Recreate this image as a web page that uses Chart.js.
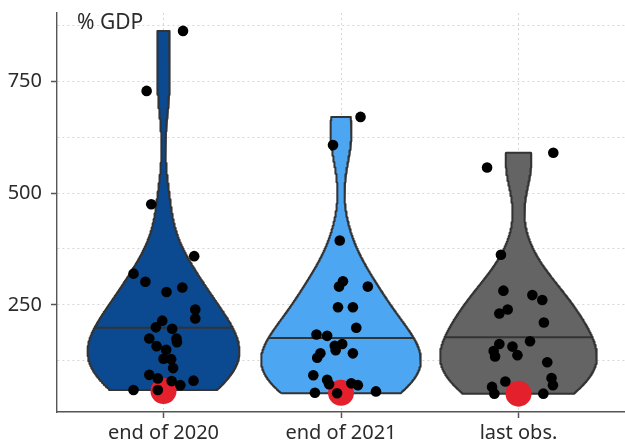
<!DOCTYPE html>
<html>
<head>
<meta charset="utf-8">
<script src="https://cdn.jsdelivr.net/npm/chart.js@4/dist/chart.umd.min.js"></script>
<style>
  html, body { margin: 0; padding: 0; background: #ffffff; }
  #wrap { width: 625px; height: 447px; }
</style>
</head>
<body>
<div id="wrap"><canvas id="c" width="625" height="447"></canvas></div>
<script>
// Categories on the x axis
const categories = ['end of 2020', 'end of 2021', 'last obs.'];

// Country observations (% of GDP) per category, with their horizontal jitter
const values2020 = [862, 728, 475, 359, 320, 302, 289, 279, 240, 220, 215, 200, 197, 175, 175, 167, 158, 150, 130, 129, 109, 94, 86, 81, 80, 71, 60, 60];
const jitter2020 = [0.110, -0.095, -0.069, 0.173, -0.169, -0.102, 0.106, 0.017, 0.179, 0.179, -0.007, -0.043, 0.049, -0.080, 0.073, 0.076, -0.039, 0.015, 0.000, 0.043, 0.054, -0.080, -0.032, 0.169, 0.046, 0.095, -0.169, -0.032];

const values2021 = [670, 607, 394, 303, 291, 291, 245, 245, 199, 184, 181, 163, 159, 149, 142, 142, 132, 93, 83, 75, 73, 71, 57, 54, 53];
const jitter2021 = [0.110, -0.045, -0.007, 0.011, -0.011, 0.151, -0.017, 0.067, 0.086, -0.138, -0.078, 0.007, -0.035, -0.030, -0.116, 0.067, -0.134, -0.156, -0.078, 0.058, -0.067, 0.095, 0.197, -0.147, -0.022];

const valuesLast = [590, 557, 362, 282, 272, 261, 240, 231, 211, 169, 163, 157, 147, 138, 135, 122, 87, 79, 71, 67, 52, 52];
const jitterLast = [0.196, -0.177, -0.099, -0.085, 0.078, 0.134, -0.061, -0.108, 0.143, 0.065, -0.108, -0.034, -0.140, -0.006, -0.132, 0.162, 0.186, -0.074, 0.194, -0.149, -0.136, 0.140];

// Median line drawn across each violin
const medianValues = [199, 176, 178];

// Highlighted country, one value per category
const highlightValues = [58, 54, 52];

// Axis ticks
const yTickLabels = [250, 500, 750];
const yMinorGrid = [125, 375, 625, 875];
const yRange = [11, 902];

// Styling
const violinColors = ['#0b4a91', '#4ca6f2', '#646464'];
const outlineColor = '#333333';
const axisColor = '#555555';
const gridColor = '#d6d6d6';
const textColor = '#2b2b2b';
const fontFamily = '"Noto Sans", "DejaVu Sans", sans-serif';

// Density smoothing: multiplier on the rule-of-thumb bandwidth
const bwAdjust = 1.15;

const groups = [
  { values: values2020, jitter: jitter2020 },
  { values: values2021, jitter: jitter2021 },
  { values: valuesLast, jitter: jitterLast }
];

// ---- Kernel density (Gaussian, Silverman's rule-of-thumb bandwidth) ----
function quantile7(sorted, p) {
  const h = (sorted.length - 1) * p;
  const lo = Math.floor(h);
  const hi = Math.min(lo + 1, sorted.length - 1);
  return sorted[lo] + (h - lo) * (sorted[hi] - sorted[lo]);
}
function bandwidth(v) {
  const n = v.length;
  const mean = v.reduce((a, b) => a + b, 0) / n;
  const sd = Math.sqrt(v.reduce((a, b) => a + (b - mean) * (b - mean), 0) / (n - 1));
  const s = [...v].sort((a, b) => a - b);
  const iqr = quantile7(s, 0.75) - quantile7(s, 0.25);
  const lo = Math.min(sd, iqr / 1.34);
  return 0.9 * lo * Math.pow(n, -0.2);
}
function kde(v, bw, y) {
  let sum = 0;
  for (const xi of v) {
    const z = (y - xi) / bw;
    sum += Math.exp(-0.5 * z * z);
  }
  return sum / (v.length * bw * Math.sqrt(2 * Math.PI));
}

const nGrid = 512;
const profiles = groups.map(g => {
  const lo = Math.min(...g.values), hi = Math.max(...g.values);
  const bw = bandwidth(g.values) * bwAdjust;
  const ys = [], ds = [];
  for (let i = 0; i < nGrid; i++) {
    const y = lo + (hi - lo) * i / (nGrid - 1);
    ys.push(y);
    ds.push(kde(g.values, bw, y));
  }
  return { ys, ds };
});
const maxDensity = Math.max(...profiles.map(p => Math.max(...p.ds)));
const halfWidthMax = 0.45;

function halfWidthAt(p, y) {
  for (let i = 1; i < p.ys.length; i++) {
    if (p.ys[i] >= y) {
      const t = (y - p.ys[i - 1]) / (p.ys[i] - p.ys[i - 1]);
      const d = p.ds[i - 1] + t * (p.ds[i] - p.ds[i - 1]);
      return halfWidthMax * d / maxDensity;
    }
  }
  return halfWidthMax * p.ds[p.ds.length - 1] / maxDensity;
}

const datasets = [];

// Violin outlines (closed polygons filled as shapes)
profiles.forEach((p, gi) => {
  const cx = gi + 1;
  const pts = [];
  for (let i = 0; i < p.ys.length; i++) pts.push({ x: cx - halfWidthMax * p.ds[i] / maxDensity, y: p.ys[i] });
  for (let i = p.ys.length - 1; i >= 0; i--) pts.push({ x: cx + halfWidthMax * p.ds[i] / maxDensity, y: p.ys[i] });
  pts.push(pts[0]);
  datasets.push({
    data: pts,
    showLine: true,
    fill: 'shape',
    backgroundColor: violinColors[gi],
    borderColor: outlineColor,
    borderWidth: 2,
    borderJoinStyle: 'round',
    pointRadius: 0,
    tension: 0,
    order: 3
  });
});

// Median line inside each violin
profiles.forEach((p, gi) => {
  const cx = gi + 1;
  const m = medianValues[gi];
  const hw = halfWidthAt(p, m);
  datasets.push({
    data: [{ x: cx - hw, y: m }, { x: cx + hw, y: m }],
    showLine: true,
    fill: false,
    borderColor: outlineColor,
    borderWidth: 2,
    pointRadius: 0,
    order: 2
  });
});

// Highlighted country
datasets.push({
  data: highlightValues.map((v, i) => ({ x: i + 1, y: v })),
  backgroundColor: '#e3202c',
  borderWidth: 0,
  pointRadius: 13,
  order: 1
});

// Individual countries
const obs = [];
groups.forEach((g, gi) => g.values.forEach((v, j) => obs.push({ x: gi + 1 + g.jitter[j], y: v })));
datasets.push({
  data: obs,
  backgroundColor: '#000000',
  borderWidth: 0,
  pointRadius: 5.3,
  order: 0
});

// Unit label in the top-left corner of the plot
const unitLabel = {
  id: 'unitLabel',
  afterDraw(chart) {
    const { ctx, chartArea } = chart;
    ctx.save();
    ctx.font = '21px ' + fontFamily;
    ctx.fillStyle = textColor;
    ctx.textBaseline = 'alphabetic';
    ctx.textAlign = 'left';
    ctx.fillText('% GDP', chartArea.left + 20, chartArea.top + 16);
    ctx.restore();
  }
};

new Chart(document.getElementById('c'), {
  type: 'scatter',
  data: { datasets },
  plugins: [unitLabel],
  options: {
    responsive: false,
    animation: false,
    events: [],
    layout: { autoPadding: false, padding: { top: 13, right: 0, bottom: 0, left: 0 } },
    plugins: { legend: { display: false }, tooltip: { enabled: false } },
    scales: {
      x: {
        type: 'linear',
        min: 0.4,
        max: 3.6,
        afterBuildTicks: s => { s.ticks = categories.map((_, i) => ({ value: i + 1 })); },
        afterFit: s => { s.height = 35; s.paddingLeft = 0; s.paddingRight = 0; },
        ticks: {
          callback: v => categories[Math.round(v) - 1],
          autoSkip: false,
          maxRotation: 0,
          padding: 3,
          color: textColor,
          font: { family: fontFamily, size: 20 }
        },
        grid: { color: gridColor, lineWidth: 1, tickColor: axisColor, tickLength: 6, tickWidth: 1.5 },
        border: { color: axisColor, width: 1.4, dash: [2, 3] }
      },
      y: {
        type: 'linear',
        min: yRange[0],
        max: yRange[1],
        afterBuildTicks: s => {
          s.ticks = [...yTickLabels, ...yMinorGrid].sort((a, b) => a - b).map(v => ({ value: v }));
        },
        afterFit: s => { s.width = 57; s.paddingTop = 0; s.paddingBottom = 0; },
        ticks: {
          callback: v => (yTickLabels.includes(v) ? String(v) : ''),
          autoSkip: false,
          padding: 9,
          color: textColor,
          font: { family: fontFamily, size: 20 }
        },
        grid: {
          color: gridColor,
          lineWidth: 1,
          tickLength: 6,
          tickWidth: 1.5,
          tickColor: c => (c.tick && yTickLabels.includes(c.tick.value) ? axisColor : 'rgba(0,0,0,0)')
        },
        border: { color: axisColor, width: 1.4, dash: [2, 3] }
      }
    }
  }
});
</script>
</body>
</html>
